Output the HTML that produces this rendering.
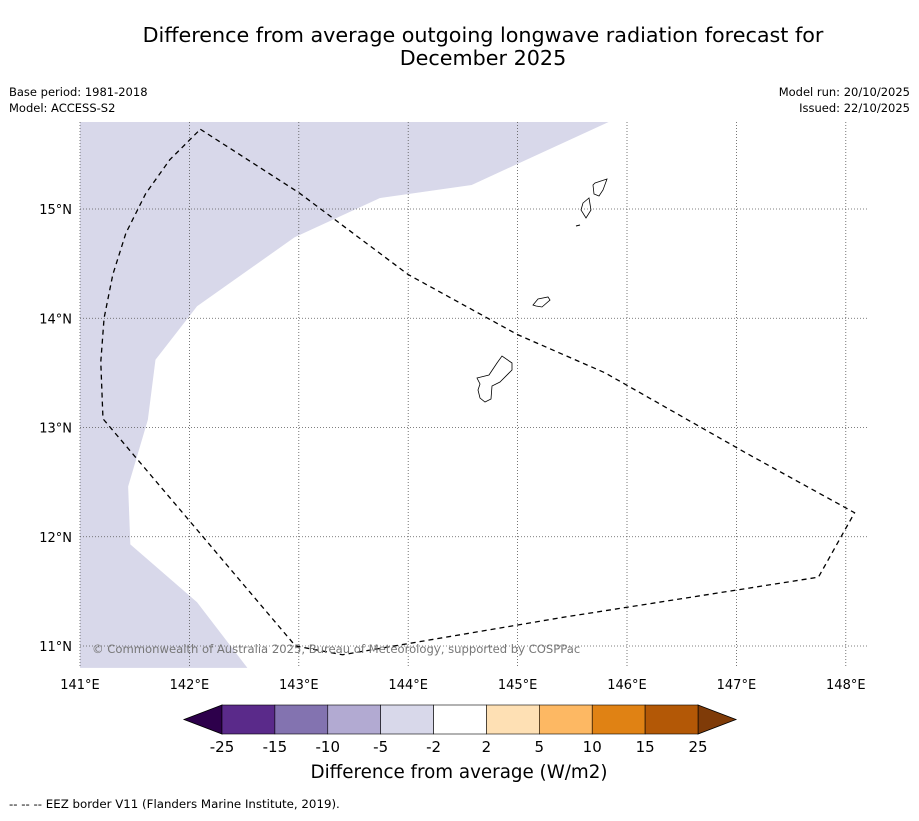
<!DOCTYPE html>
<html><head><meta charset="utf-8"><style>
body{margin:0;background:#fff;font-family:"Liberation Sans","DejaVu Sans",sans-serif;}
svg text{font-family:"DejaVu Sans","Liberation Sans",sans-serif;}
</style></head><body>
<svg id="s" width="919" height="816" xmlns="http://www.w3.org/2000/svg">
<text x="483" y="42" font-size="20.7" text-anchor="middle">Difference from average outgoing longwave radiation forecast for</text>
<text x="483" y="65" font-size="20.7" text-anchor="middle">December 2025</text>
<text x="9" y="96" font-size="11.5">Base period: 1981-2018</text>
<text x="9" y="112" font-size="11.5">Model: ACCESS-S2</text>
<text x="910" y="96" font-size="11.5" text-anchor="end">Model run: 20/10/2025</text>
<text x="910" y="112" font-size="11.5" text-anchor="end">Issued: 22/10/2025</text>
<g id="map"></g>
<g id="cb"></g>
<text x="459" y="778" font-size="18.3" text-anchor="middle">Difference from average (W/m2)</text>
<text x="9" y="808" font-size="11.8">--  --  -- EEZ border V11 (Flanders Marine Institute, 2019).</text>
</svg>
<script>
const lonTicks=[141,142,143,144,145,146,147,148];
const latTicks=[11,12,13,14,15];
const cbLevels=["-25","-15","-10","-5","-2","2","5","10","15","25"];
const cbColors=["#5a2a8a","#8373b0","#b2aad2","#d8d8ea","#ffffff","#fee0b4","#fdb863","#e08214","#b35806"];
const shadeLon=[141,145.84,144.58,143.74,142.96,142.07,141.69,141.62,141.44,141.46,142.07,142.53,141];
const shadeLat=[15.8,15.8,15.22,15.1,14.74,14.11,13.62,13.07,12.46,11.93,11.4,10.8,10.8];
const eezLon=[142.1,143.0,144.0,145.0,145.8,147.1,148.08,147.75,145.4,143.4,142.97,141.21,141.19,141.22,141.3,141.42,141.6,141.82,142.1];
const eezLat=[15.73,15.15,14.4,13.85,13.5,12.76,12.22,11.63,11.26,10.92,11.0,13.08,13.6,14.0,14.4,14.78,15.14,15.45,15.73];
const NS="http://www.w3.org/2000/svg";
const X0=80,X1=868,Y0=122,Y1=668;
const xs=lon=>80+(lon-141)*109.4;
const ys=lat=>209+(15-lat)*109.25;
const map=document.getElementById('map');
function mk(t,a,p){const e=document.createElementNS(NS,t);for(const k in a)e.setAttribute(k,a[k]);(p||map).appendChild(e);return e;}
const cp=mk('clipPath',{id:'cl'});mk('rect',{x:X0,y:Y0,width:X1-X0,height:Y1-Y0},cp);
const sh=mk('polygon',{points:shadeLon.map((l,i)=>xs(l)+','+ys(shadeLat[i])).join(' '),fill:'#d8d8ea','clip-path':'url(#cl)'});


lonTicks.forEach(l=>{const g=mk('line',{x1:xs(l),x2:xs(l),y1:Y0,y2:Y1,stroke:'#555','stroke-width':0.8,'stroke-dasharray':'1,2'});


const t=mk('text',{x:xs(l),y:689,'font-size':13,'text-anchor':'middle'});t.textContent=l+'°E';

});
latTicks.forEach(l=>{const g=mk('line',{x1:X0,x2:X1,y1:ys(l),y2:ys(l),stroke:'#555','stroke-width':0.8,'stroke-dasharray':'1,2'});


const t=mk('text',{x:72,y:ys(l)+5,'font-size':13,'text-anchor':'end'});t.textContent=l+'°N';

});
const islands=[[[595,183],[607,179],[603,190],[599,196],[594,194],[593,185]],[[583,203],[589,198],[591,210],[586,218],[581,210]],[[533,305],[538,299],[548,297],[550,300],[542,307],[536,306]],[[477,378],[489,375],[497,363],[502,356],[512,363],[512,370],[500,382],[492,386],[491,399],[485,402],[480,398],[478,390],[480,384]]];
islands.forEach(p=>{const e=mk('polygon',{points:p.map(q=>q.join(',')).join(' '),fill:'none',stroke:'#000','stroke-width':0.8});

});
mk('line',{x1:576,y1:226,x2:580,y2:225,stroke:'#000'});
const ez=mk('polyline',{points:eezLon.map((l,i)=>xs(l)+','+ys(eezLat[i])).join(' '),fill:'none',stroke:'#000','stroke-width':1.3,'stroke-dasharray':'5,4'});


const cr=mk('text',{x:92,y:653,'font-size':11.6,fill:'#777'});cr.textContent='© Commonwealth of Australia 2025, Bureau of Meteorology, supported by COSPPac';


const cb=document.getElementById('cb');
const bx0=222,bw=(698-222)/cbColors.length,by=705,bh=29;
mk('polygon',{points:`${bx0},${by} 184,${by+bh/2} ${bx0},${by+bh}`,fill:'#2d004b',stroke:'#000','stroke-width':0.8},cb);
mk('polygon',{points:`698,${by} 736,${by+bh/2} 698,${by+bh}`,fill:'#7f3b08',stroke:'#000','stroke-width':0.8},cb);
cbColors.forEach((c,i)=>{const r=mk('rect',{x:bx0+i*bw,y:by,width:bw,height:bh,fill:c,stroke:'#000','stroke-width':0.6},cb);

});
cbLevels.forEach((v,i)=>{const t=mk('text',{x:bx0+i*bw,y:752,'font-size':15,'text-anchor':'middle'},cb);t.textContent=v;

});
</script>
</body></html>
